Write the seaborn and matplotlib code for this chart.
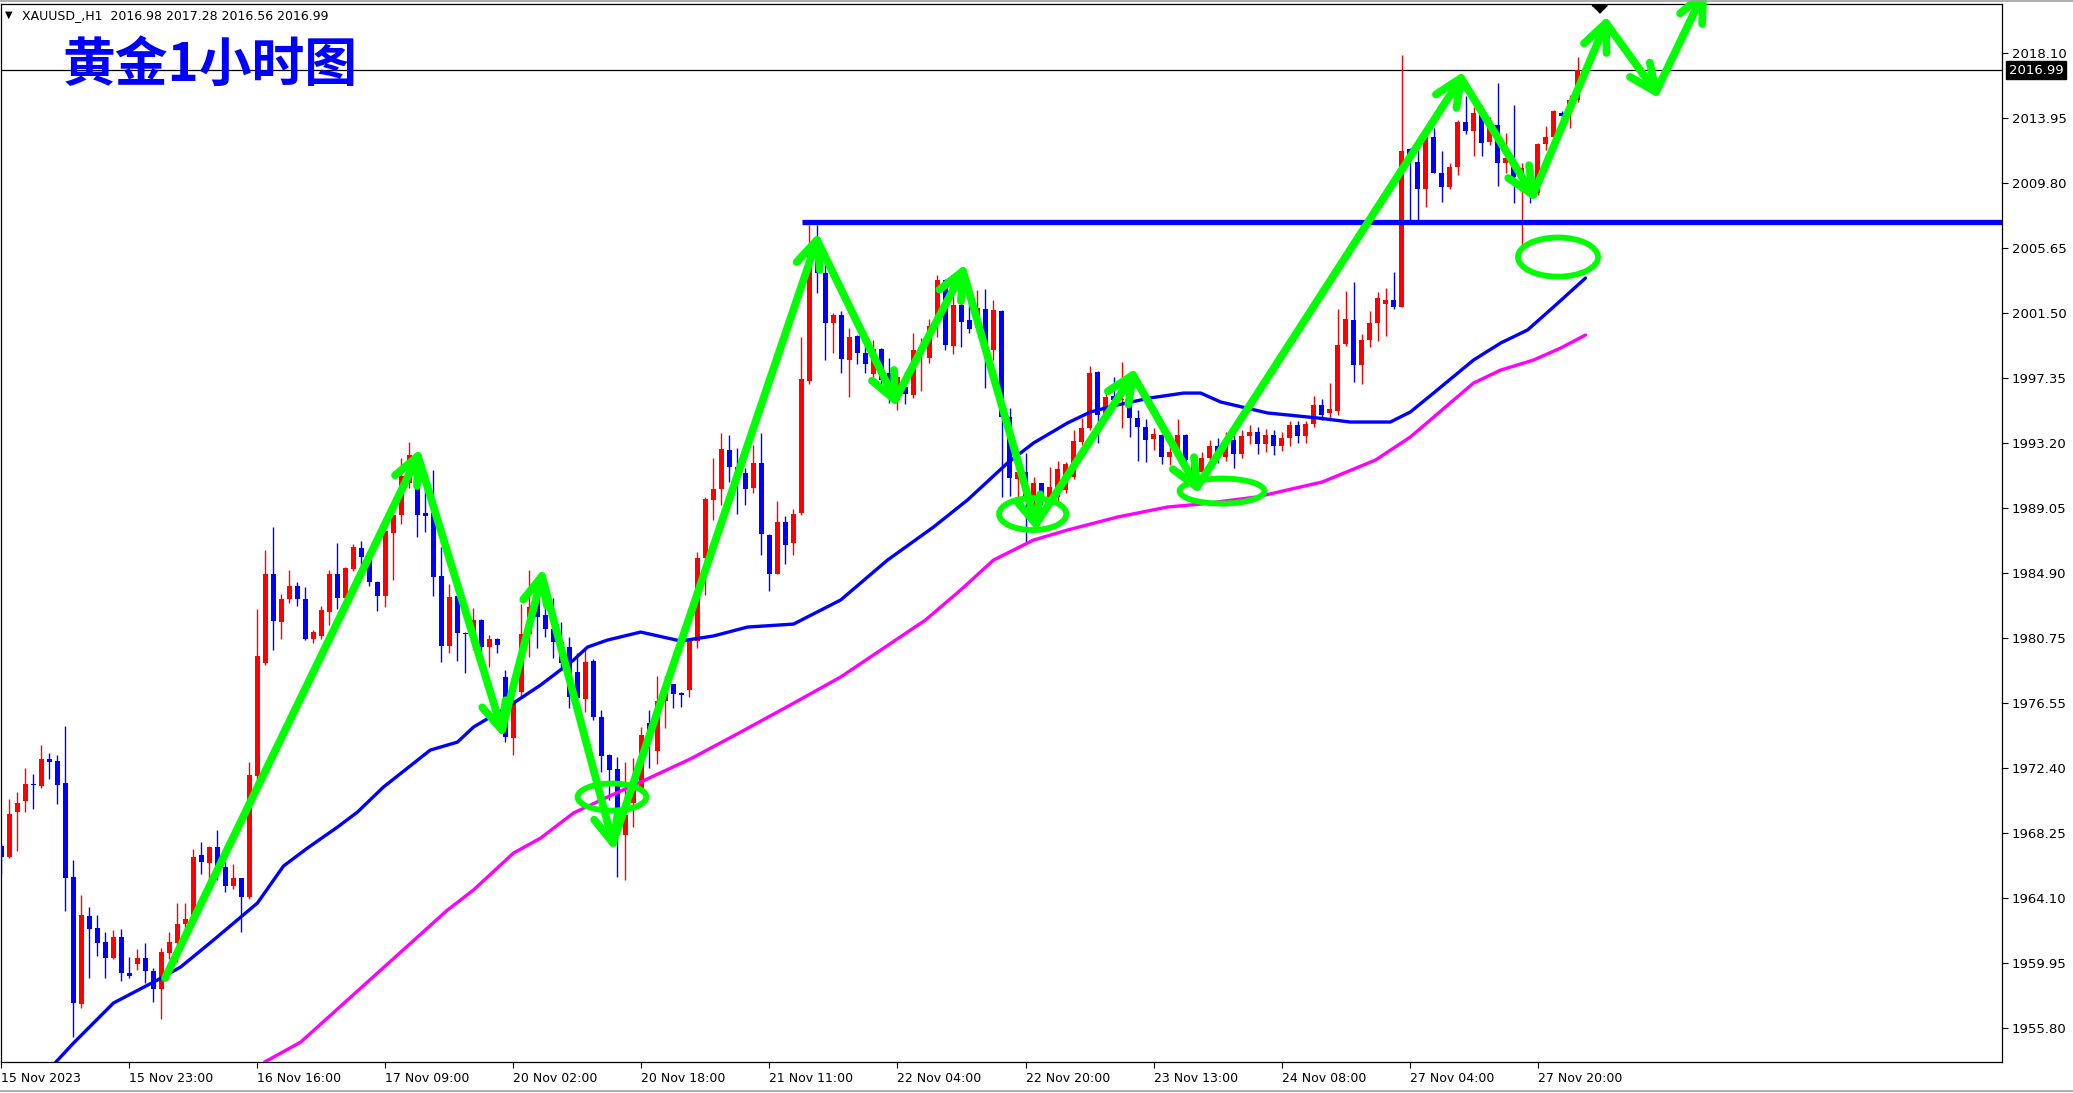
import numpy as np
import pandas as pd
import matplotlib
matplotlib.use("Agg")
import matplotlib.pyplot as plt
import matplotlib.transforms as mtransforms
from matplotlib.patches import Ellipse
from matplotlib.lines import Line2D
import seaborn as sns

# ==========================================================
# XAUUSD H1 candles (bar 0..198)
# ==========================================================
open_px = [
    1967.45, 1966.75, 1969.62, 1970.33, 1971.37, 1971.26, 1972.97, 1972.86, 1971.43, 1965.43,
    1957.33, 1962.96, 1962.17, 1961.27, 1960.25, 1961.59, 1959.29, 1959.87, 1960.25, 1959.47,
    1958.27, 1960.57, 1961.25, 1962.45, 1962.70, 1966.86, 1966.37, 1967.37, 1966.07, 1964.90,
    1965.36, 1964.15, 1971.90, 1979.10, 1984.81, 1981.76, 1983.19, 1984.06, 1983.21, 1980.66,
    1980.87, 1982.40, 1984.81, 1983.30, 1985.13, 1986.49, 1985.81, 1984.28, 1983.43, 1987.45,
    1988.58, 1990.60, 1991.24, 1988.68, 1988.68, 1984.70, 1980.21, 1983.43, 1981.06, 1980.38,
    1981.87, 1980.17, 1980.63, 1978.25, 1974.31, 1977.29, 1980.97, 1983.36, 1982.19, 1981.27,
    1980.49, 1980.17, 1978.57, 1976.80, 1979.27, 1975.70, 1973.25, 1972.35, 1968.13, 1970.16,
    1971.01, 1975.27, 1973.50, 1976.70, 1977.78, 1977.19, 1977.43, 1980.54, 1985.82, 1989.54,
    1990.27, 1992.74, 1991.66, 1991.28, 1990.33, 1991.92, 1987.28, 1984.84, 1988.15, 1986.78,
    1988.73, 1997.15, 2005.20, 2004.05, 2000.85, 2001.36, 1998.48, 2000.02, 1998.91, 1997.59,
    1999.17, 1997.63, 1995.93, 1996.78, 1996.25, 1999.10, 1998.63, 2000.93, 2003.60, 1999.38,
    2002.00, 2001.04, 2000.51, 2001.72, 1999.12, 2001.64, 1994.86, 1990.90, 1991.35, 1989.65,
    1990.60, 1989.65, 1989.70, 1990.18, 1991.03, 1993.27, 1994.12, 1997.74, 1994.97, 1996.18,
    1995.90, 1995.93, 1994.80, 1994.22, 1993.42, 1993.69, 1992.27, 1992.63, 1993.69, 1992.10,
    1991.30, 1992.20, 1993.00, 1992.30, 1993.40, 1992.50, 1993.60, 1993.90, 1993.10, 1993.70,
    1993.00, 1993.50, 1994.30, 1993.60, 1994.40, 1995.61, 1995.12, 1995.25, 1999.51, 2001.04,
    1998.16, 1999.76, 2000.83, 2002.06, 2002.32, 2001.89, 2011.95, 2011.11, 2009.39, 2012.75,
    2010.45, 2009.56, 2010.79, 2013.71, 2013.14, 2014.14, 2012.43, 2013.50, 2011.09, 2010.84,
    2010.20, 2010.84, 2009.13, 2012.28, 2012.75, 2014.24, 2014.35, 2015.10, 2016.98,
]
high_px = [
    1967.60, 1970.43, 1970.86, 1972.39, 1972.03, 1973.88, 1973.39, 1973.25, 1975.10, 1966.54,
    1964.30, 1963.55, 1963.02, 1961.96, 1962.06, 1962.11, 1960.36, 1960.85, 1961.21, 1959.66,
    1960.89, 1961.96, 1963.81, 1963.81, 1967.24, 1967.67, 1967.45, 1968.45, 1966.43, 1966.28,
    1965.40, 1972.80, 1982.57, 1986.34, 1987.81, 1983.53, 1985.06, 1984.28, 1984.00, 1981.23,
    1982.76, 1985.06, 1986.79, 1985.25, 1986.73, 1986.92, 1986.13, 1984.35, 1987.62, 1988.65,
    1992.20, 1993.22, 1991.88, 1991.03, 1991.45, 1986.56, 1984.17, 1983.50, 1981.10, 1982.62,
    1981.95, 1980.91, 1980.70, 1978.68, 1977.00, 1982.89, 1985.06, 1983.40, 1983.15, 1983.25,
    1981.72, 1980.80, 1979.74, 1980.17, 1979.36, 1976.12, 1973.30, 1973.14, 1972.82, 1973.03,
    1975.06, 1976.12, 1978.27, 1978.30, 1977.80, 1977.30, 1980.70, 1986.20, 1989.70, 1992.21,
    1993.81, 1993.69, 1992.88, 1991.57, 1993.03, 1993.84, 1987.35, 1989.48, 1988.52, 1988.96,
    1999.94, 2007.11, 2007.11, 2004.93, 2001.47, 2001.64, 2000.51, 2000.08, 1999.76, 1999.76,
    1999.25, 1998.59, 1997.60, 1997.74, 2000.19, 1999.90, 2001.10, 2003.92, 2003.65, 2002.85,
    2003.92, 2002.96, 2002.96, 2003.00, 2002.32, 2001.70, 1995.40, 1992.50, 1992.52, 1991.03,
    1990.65, 1991.67, 1992.00, 1991.99, 1994.01, 1994.76, 1998.12, 1997.80, 1996.35, 1997.42,
    1998.38, 1996.00, 1995.29, 1994.71, 1994.12, 1993.75, 1993.37, 1994.69, 1993.76, 1992.40,
    1992.60, 1993.40, 1993.50, 1993.90, 1993.80, 1994.00, 1994.30, 1994.20, 1994.10, 1994.00,
    1993.90, 1994.60, 1994.60, 1994.60, 1996.20, 1995.97, 1997.03, 2001.72, 2002.91, 2003.45,
    2000.14, 2001.64, 2002.85, 2003.06, 2004.13, 2017.97, 2012.01, 2011.90, 2013.29, 2013.29,
    2011.86, 2011.05, 2013.82, 2015.35, 2014.67, 2014.78, 2014.03, 2016.16, 2012.97, 2014.78,
    2011.05, 2010.90, 2012.35, 2013.44, 2014.46, 2014.41, 2015.42, 2017.86, 2017.28,
]
low_px = [
    1965.73, 1966.69, 1967.13, 1969.62, 1969.79, 1971.12, 1971.71, 1970.11, 1963.30, 1955.25,
    1957.06, 1959.02, 1960.40, 1959.02, 1960.19, 1958.83, 1958.97, 1959.51, 1958.70, 1957.48,
    1956.36, 1960.19, 1960.00, 1962.06, 1962.49, 1965.62, 1965.26, 1965.26, 1964.51, 1964.66,
    1961.96, 1964.04, 1971.50, 1979.00, 1979.95, 1980.66, 1982.98, 1982.79, 1980.59, 1980.42,
    1980.66, 1981.55, 1982.57, 1983.15, 1985.02, 1985.28, 1984.04, 1982.47, 1982.72, 1984.43,
    1988.00, 1990.30, 1987.19, 1987.51, 1983.43, 1979.21, 1979.78, 1979.27, 1978.46, 1979.95,
    1979.53, 1978.89, 1979.78, 1974.10, 1973.25, 1976.90, 1979.53, 1980.06, 1980.80, 1979.42,
    1978.68, 1976.23, 1975.91, 1976.01, 1975.50, 1972.18, 1970.37, 1965.47, 1965.26, 1968.67,
    1970.80, 1972.39, 1972.70, 1975.00, 1976.24, 1976.33, 1976.98, 1980.10, 1983.44, 1988.23,
    1989.25, 1990.70, 1988.67, 1989.19, 1989.98, 1986.05, 1983.73, 1984.80, 1985.47, 1986.00,
    1988.60, 1996.95, 2002.76, 1998.50, 1998.90, 1997.63, 1996.10, 1998.23, 1997.68, 1997.31,
    1996.60, 1995.72, 1995.29, 1995.67, 1996.04, 1996.50, 1998.27, 1999.97, 1999.12, 1998.87,
    1999.34, 2000.19, 2000.19, 1996.67, 1998.48, 1989.75, 1989.79, 1989.20, 1986.88, 1988.69,
    1989.22, 1989.33, 1989.40, 1990.01, 1990.90, 1993.05, 1994.01, 1993.20, 1994.90, 1995.50,
    1994.12, 1993.59, 1992.05, 1991.99, 1992.73, 1991.84, 1991.78, 1992.52, 1991.67, 1990.60,
    1991.00, 1991.80, 1991.90, 1992.00, 1991.60, 1992.20, 1993.10, 1992.50, 1992.60, 1992.40,
    1992.70, 1993.00, 1993.20, 1993.20, 1994.20, 1994.65, 1994.65, 1995.00, 1999.38, 1997.10,
    1996.95, 1999.34, 1999.72, 2000.02, 2001.72, 2001.85, 2007.43, 2007.32, 2008.28, 2010.40,
    2008.60, 2009.39, 2010.30, 2012.90, 2011.52, 2011.52, 2012.22, 2009.60, 2010.45, 2008.54,
    2005.55, 2008.54, 2009.05, 2011.90, 2012.54, 2013.60, 2013.29, 2014.99, 2016.56,
]
close_px = [
    1966.75, 1969.48, 1970.16, 1971.37, 1971.30, 1972.97, 1972.82, 1971.33, 1965.41, 1957.42,
    1963.02, 1962.15, 1961.25, 1960.30, 1961.59, 1959.29, 1959.15, 1960.25, 1959.47, 1958.27,
    1960.64, 1961.27, 1962.45, 1962.77, 1966.71, 1966.43, 1967.37, 1966.11, 1964.90, 1965.36,
    1964.19, 1971.97, 1979.57, 1984.81, 1981.83, 1983.21, 1984.06, 1983.19, 1980.66, 1981.12,
    1982.51, 1984.81, 1983.30, 1985.21, 1986.56, 1985.92, 1984.28, 1983.43, 1987.56, 1988.58,
    1991.07, 1992.41, 1988.58, 1988.53, 1984.64, 1980.21, 1983.36, 1981.02, 1980.95, 1981.87,
    1980.17, 1980.63, 1980.27, 1974.42, 1976.55, 1980.97, 1982.72, 1982.08, 1981.27, 1980.49,
    1979.10, 1976.97, 1976.87, 1979.21, 1975.70, 1973.20, 1972.29, 1969.00, 1969.40, 1971.01,
    1974.52, 1974.21, 1976.70, 1977.80, 1977.14, 1977.05, 1980.68, 1985.82, 1989.60, 1990.27,
    1992.79, 1991.66, 1991.14, 1990.27, 1991.92, 1987.36, 1984.84, 1988.15, 1986.69, 1988.67,
    1997.30, 2005.20, 2004.05, 2000.85, 2001.35, 1998.53, 1999.93, 1998.91, 1998.21, 1999.17,
    1997.21, 1996.57, 1997.40, 1996.31, 1999.12, 1999.40, 2000.66, 2003.60, 1999.44, 2002.00,
    2000.93, 2000.44, 2001.79, 1999.02, 2001.68, 1994.86, 1990.92, 1991.30, 1989.65, 1990.60,
    1989.65, 1990.39, 1991.50, 1991.84, 1993.33, 1994.12, 1997.67, 1994.97, 1996.10, 1995.93,
    1996.00, 1994.80, 1994.18, 1993.37, 1993.76, 1992.27, 1992.63, 1993.69, 1992.09, 1991.30,
    1992.20, 1993.00, 1992.30, 1993.40, 1992.50, 1993.60, 1993.90, 1993.10, 1993.70, 1993.00,
    1993.50, 1994.30, 1993.60, 1994.40, 1995.61, 1994.97, 1995.35, 1999.44, 2001.08, 1998.16,
    1999.76, 2000.83, 2002.42, 2002.32, 2001.89, 2011.84, 2011.60, 2009.39, 2012.75, 2010.45,
    2009.52, 2010.79, 2013.71, 2013.14, 2014.24, 2012.37, 2013.61, 2011.09, 2011.37, 2010.20,
    2010.73, 2009.10, 2012.28, 2012.75, 2014.41, 2014.07, 2015.10, 2017.01, 2016.99,
]

# moving averages (blue = fast, magenta = slow), read as bar / price pairs
ma_fast_bar = [6.75, 9.0, 14.0, 19.5, 22.4, 26.5, 32.0, 35.25, 38.25, 42.0, 44.5, 47.75,
               50.75, 53.6, 57.0, 59.0, 61.1, 63.25, 67.4, 71.5, 73.25, 75.75, 79.9, 84.9,
               89.0, 93.25, 99.0, 104.9, 110.75, 116.5, 120.75, 125.75, 129.0, 133.25, 136.1,
               139.5, 143.6, 147.75, 149.9, 152.4, 158.25, 164.5, 168.6, 173.6, 176.1, 179.0,
               184.0, 187.4, 190.75, 194.0, 198.0]
ma_fast_px = [1953.6, 1954.84, 1957.40, 1958.87, 1959.70, 1961.42, 1963.79, 1966.15, 1967.30,
              1968.64, 1969.60, 1971.20, 1972.41, 1973.56, 1974.07, 1975.03, 1975.67, 1976.31,
              1977.72, 1979.31, 1980.14, 1980.59, 1981.10, 1980.53, 1980.85, 1981.42, 1981.61,
              1983.15, 1985.70, 1987.81, 1989.54, 1991.90, 1993.18, 1994.46, 1995.16, 1995.61,
              1996.06, 1996.37, 1996.37, 1995.80, 1995.10, 1994.78, 1994.52, 1994.52, 1995.16,
              1996.37, 1998.48, 1999.57, 2000.40, 2001.87, 2003.72]
ma_slow_bar = [32.9, 37.4, 55.75, 59.0, 64.0, 67.4, 71.5, 75.75, 79.9, 86.1, 92.4, 98.6,
               104.9, 115.5, 119.9, 124.0, 129.0, 133.25, 139.5, 145.75, 149.9, 156.9, 165.1,
               171.75, 176.1, 178.6, 184.0, 187.4, 191.5, 194.9, 198.0]
ma_slow_px = [1953.63, 1954.90, 1963.34, 1964.62, 1966.98, 1967.94, 1969.54, 1970.56, 1971.52,
              1972.99, 1974.71, 1976.44, 1978.23, 1981.87, 1983.79, 1985.70, 1986.98, 1987.62,
              1988.45, 1989.09, 1989.28, 1989.73, 1990.69, 1992.09, 1993.56, 1994.65, 1997.01,
              1997.84, 1998.48, 1999.25, 2000.08]

# hand-drawn annotations
zigzag_bar = [20.44, 52.06, 62.56, 67.56, 76.44, 101.94, 111.69, 120.19, 129.31, 141.44,
              149.44, 182.44, 191.44, 200.56, 206.81, 212.69]
zigzag_px = [1958.99, 1992.35, 1974.84, 1984.68, 1967.62, 2006.15, 1995.93, 2004.17, 1988.00,
             1997.53, 1990.37, 2016.50, 2009.03, 2020.02, 2015.61, 2021.87]
oval_bar = [76.31, 128.9, 152.56, 194.56]
oval_px = [1970.56, 1988.64, 1990.11, 2005.06]
oval_w = [8.6, 8.4, 10.6, 10.0]
oval_h = [1.73, 2.04, 1.6, 2.5]
resistance = 2007.30
resistance_from = 100.06
last_price = 2016.99

price_ticks = [2018.10, 2013.95, 2009.80, 2005.65, 2001.50, 1997.35, 1993.20, 1989.05,
               1984.90, 1980.75, 1976.55, 1972.40, 1968.25, 1964.10, 1959.95, 1955.80]
time_ticks = [0, 16, 32, 48, 64, 80, 96, 112, 128, 144, 160, 176, 192]
time_labels = ["15 Nov 2023", "15 Nov 23:00", "16 Nov 16:00", "17 Nov 09:00", "20 Nov 02:00",
               "20 Nov 18:00", "21 Nov 11:00", "22 Nov 04:00", "22 Nov 20:00", "23 Nov 13:00",
               "24 Nov 08:00", "27 Nov 04:00", "27 Nov 20:00"]

assert len(open_px) == len(high_px) == len(low_px) == len(close_px)

df = pd.DataFrame({"open": open_px, "high": high_px, "low": low_px, "close": close_px})
df["bar"] = np.arange(len(df))
df["up"] = df["close"] >= df["open"]
df["color"] = np.where(df["up"], "#FF0000", "#0000FF")
df["body_lo"] = df[["open", "close"]].min(axis=1)
df["body_h"] = (df["close"] - df["open"]).abs().clip(lower=0.07)

# ==========================================================
# figure
# ==========================================================
sns.set_theme(style="white")
plt.rcParams["font.family"] = ["DejaVu Sans"]

W, H = 2073, 1093
fig = plt.figure(figsize=(W / 100, H / 100), dpi=100)
ax = fig.add_axes([1 / W, 31 / H, 2001 / W, 1058 / H])
ax.set_xlim(-0.06, 250.06)
ax.set_ylim(1953.63, 2021.23)

# candles
ax.vlines(df["bar"], df["low"], df["high"], colors=df["color"], lw=1.0, zorder=2)
ax.bar(df["bar"], df["body_h"], bottom=df["body_lo"], width=0.64,
       color=df["color"], linewidth=0, zorder=3)

# moving averages
sns.lineplot(x=ma_fast_bar, y=ma_fast_px, color="#0000FF", lw=2.4, ax=ax, zorder=4)
sns.lineplot(x=ma_slow_bar, y=ma_slow_px, color="#FF00FF", lw=2.4, ax=ax, zorder=4)

# last price + resistance level
ax.axhline(last_price, color="black", lw=0.9, zorder=1)
ax.hlines(resistance, resistance_from, 250.06, color="#0000FF", lw=3.8, zorder=5)

# green zigzag with open arrow heads
green = "#00FF00"
ax.plot(zigzag_bar, zigzag_px, color=green, lw=5.6, solid_capstyle="round",
        solid_joinstyle="round", zorder=6, clip_on=False)
pts = ax.transData.transform(np.column_stack([zigzag_bar, zigzag_px]))
inv = ax.transData.inverted()
head_len, head_ang = 30, np.deg2rad(24)
for p0, p1 in zip(pts[:-1], pts[1:]):
    back = (p0 - p1) / np.hypot(*(p0 - p1))
    arms = []
    for a in (head_ang, -head_ang):
        rot = np.array([[np.cos(a), -np.sin(a)], [np.sin(a), np.cos(a)]])
        arms.append(p1 + head_len * rot @ back)
    head = inv.transform(np.array([arms[0], p1, arms[1]]))
    ax.plot(head[:, 0], head[:, 1], color=green, lw=5.6, solid_capstyle="round",
            solid_joinstyle="round", zorder=6, clip_on=False)

for xb, yp, w, h in zip(oval_bar, oval_px, oval_w, oval_h):
    ax.add_patch(Ellipse((xb, yp), w, h, fill=False, ec=green, lw=4.2, zorder=6))

# axes styling (MT4 look)
for s in ax.spines.values():
    s.set_color("black")
    s.set_linewidth(0.9)
ax.yaxis.tick_right()
ax.set_yticks(price_ticks)
ax.set_yticklabels([f"{v:.2f}" for v in price_ticks])
ax.tick_params(axis="y", right=True, left=False, labelright=True, labelleft=False,
               length=4, width=0.8, pad=3, labelsize=9.5, colors="black", direction="out")
ax.set_xticks(time_ticks)
ax.set_xticklabels(time_labels, ha="left")
ax.tick_params(axis="x", bottom=True, length=4, width=0.8, pad=3, labelsize=9,
               colors="black", direction="out")
ax.set_xlabel("")
ax.set_ylabel("")
ax.grid(False)

# last price tag on the price scale
blend = mtransforms.blended_transform_factory(ax.transAxes, ax.transData)
ax.text(1.0035, last_price, f"{last_price:.2f}", transform=blend, color="white",
        fontsize=9.5, va="center", ha="left", zorder=7,
        bbox=dict(boxstyle="square,pad=0.2", fc="black", ec="black"))

# chart shift marker
blend_xa = mtransforms.blended_transform_factory(ax.transData, ax.transAxes)
ax.plot([199.7], [1 - 4.5 / 1058], marker=[(-1, 0.5), (1, 0.5), (0, -0.5)],
        markersize=11, color="black", transform=blend_xa, clip_on=False, zorder=8)

# header + title
fig.text(5 / W, 1 - 15 / H, "\u25bc", fontsize=7, color="black", va="center", ha="left")
fig.text(22 / W, 1 - 16 / H, "XAUUSD_,H1  2016.98 2017.28 2016.56 2016.99",
         fontsize=9, color="black", va="center", ha="left")
fig.text(63 / W, 1 - 65 / H, "黄金1小时图", family=["Noto Sans CJK SC", "DejaVu Sans"],
         fontsize=38, fontweight="bold", color="#0000FF", va="center", ha="left")

# window frame lines
fig.add_artist(Line2D([0, 1], [1 - 0.5 / H, 1 - 0.5 / H], color="#A0A0A0", lw=1.2))
fig.add_artist(Line2D([0, 1], [2.5 / H, 2.5 / H], color="#A0A0A0", lw=1.2))

fig.savefig("out.png", dpi=100, facecolor="white")
